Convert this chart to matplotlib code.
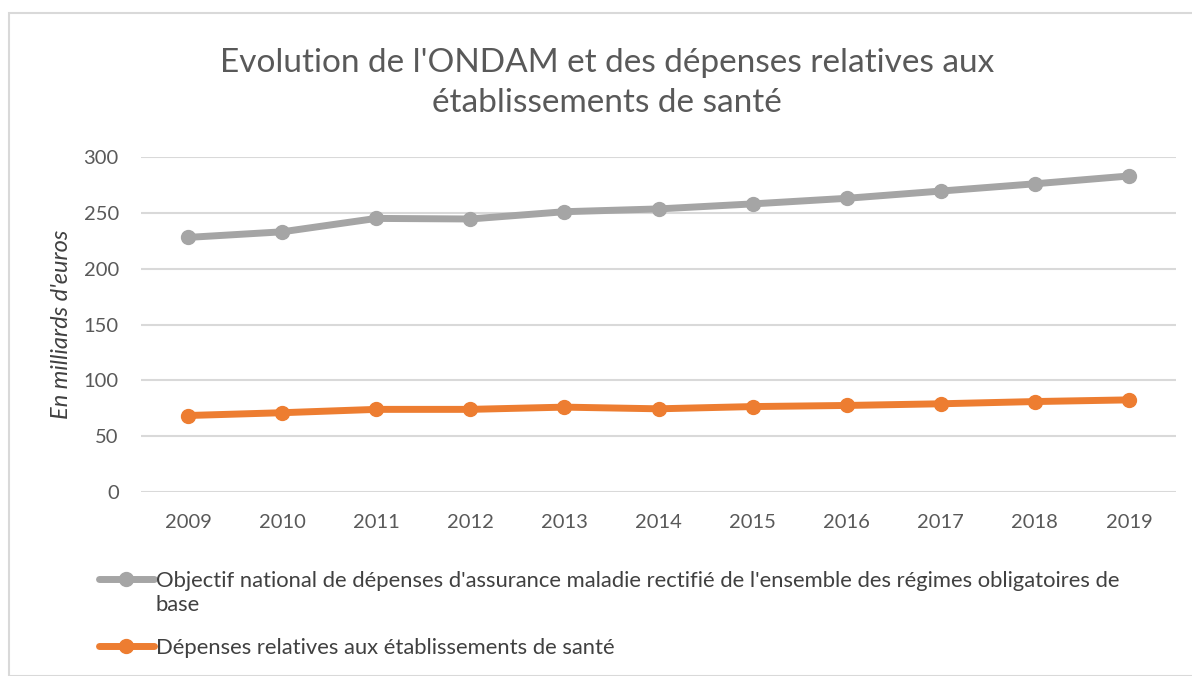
import matplotlib
matplotlib.use('Agg')
import matplotlib.pyplot as plt
from matplotlib.patches import Rectangle

# Données (milliards d'euros)
annees = ['2009', '2010', '2011', '2012', '2013', '2014', '2015', '2016', '2017', '2018', '2019']
ondam = [228, 233, 245, 244.5, 251, 253.5, 258, 263, 269.5, 276, 283]
etablissements = [68.5, 71, 74, 74, 76, 74.5, 76.5, 77.5, 79, 81, 82.5]

label_ondam = "Objectif national de dépenses d'assurance maladie rectifié de l'ensemble des régimes obligatoires de"
label_ondam_suite = "base"
label_etab = "Dépenses relatives aux établissements de santé"

plt.rcParams['font.family'] = ['Lato', 'DejaVu Sans']

fig = plt.figure(figsize=(11.92, 6.76), dpi=100)
W, H = 1192, 676

# cadre du graphique
fig.patches.append(Rectangle((9 / W, 0), 1.2, 1 - 13 / H, transform=fig.transFigure,
                             fill=False, edgecolor='#D9D9D9', linewidth=1.5))

ax = fig.add_axes([141 / W, 1 - 492 / H, (1176 - 141) / W, (492 - 157) / H])
x = range(len(annees))
ax.plot(x, ondam, color='#A5A5A5', linewidth=5, marker='o', markersize=10,
        solid_capstyle='round', label=label_ondam)
ax.plot(x, etablissements, color='#ED7D31', linewidth=5, marker='o', markersize=10,
        solid_capstyle='round', label=label_etab)

ax.set_xlim(-0.5, len(annees) - 0.5)
ax.set_ylim(0, 300)
ax.set_yticks(range(0, 301, 50))
ax.set_xticks(list(x))
ax.set_xticklabels(annees)
ax.grid(axis='y', color='#D9D9D9', linewidth=1.5)
ax.set_axisbelow(True)
for s in ax.spines.values():
    s.set_visible(False)
ax.tick_params(length=0, labelsize=14.5, colors='#595959', pad=16)
ax.tick_params(axis='y', pad=16)
ax.set_ylabel("En milliards d'euros", fontsize=17, style='italic', color='#404040', labelpad=8)

fig.text(607 / W, 1 - 83 / H, "Evolution de l'ONDAM et des dépenses relatives aux\nétablissements de santé",
         ha='center', va='center', fontsize=24, color='#595959', linespacing=1.45)

leg = fig.legend(loc='upper left', bbox_to_anchor=(90 / W, 1 - 562 / H), frameon=False,
                 fontsize=15.8, handlelength=2.5, handletextpad=0.1, labelspacing=2.15,
                 labelcolor='#404040', borderaxespad=0)

# deuxième ligne du premier libellé, sous le texte de la légende
fig.canvas.draw()
bb = leg.get_texts()[0].get_window_extent()
fig.text(bb.x0 / W, (bb.y0 - 4) / H, label_ondam_suite, ha='left', va='top',
         fontsize=15.8, color='#404040')

plt.savefig('out.png', dpi=100)
